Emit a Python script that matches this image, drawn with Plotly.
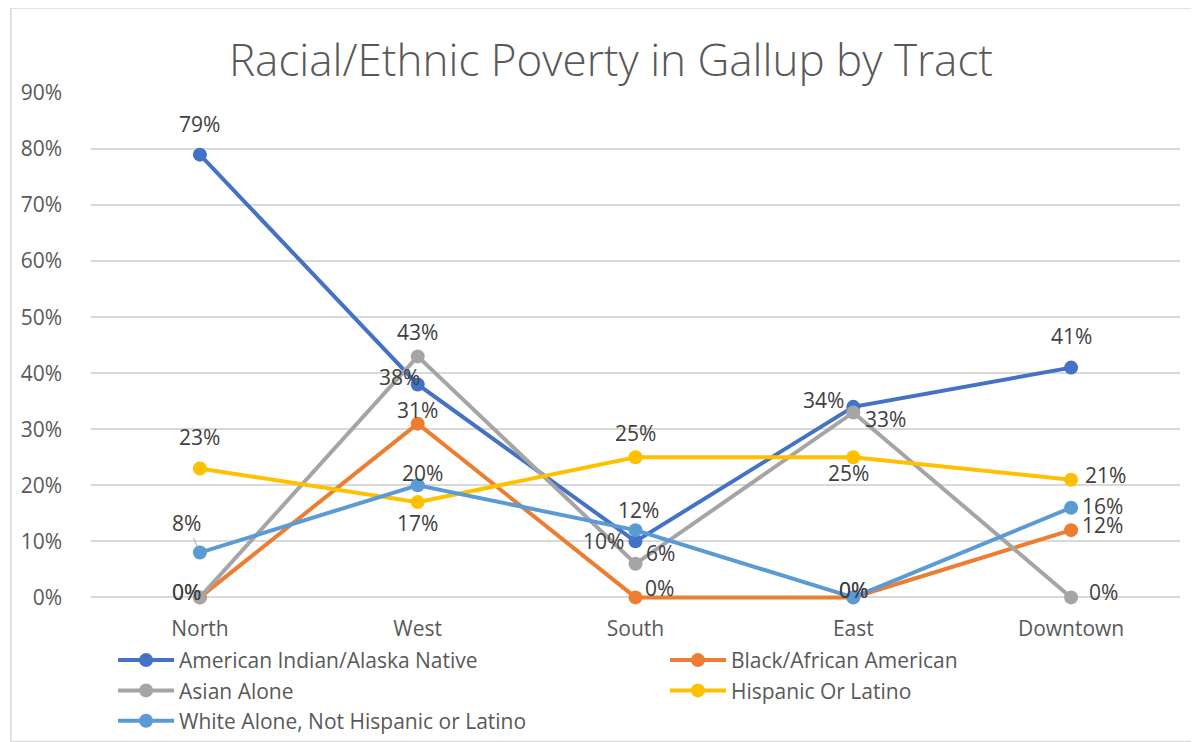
import plotly.graph_objects as go

# datos
tracts = ['North', 'West', 'South', 'East', 'Downtown']
american_indian = [79, 38, 10, 34, 41]
black = [0, 31, 0, 0, 12]
asian = [0, 43, 6, 33, 0]
hispanic = [23, 17, 25, 25, 21]
white = [8, 20, 12, 0, 16]

series = [
    ('American Indian/Alaska Native', american_indian, '#4472C4', 'legend'),
    ('Black/African American', black, '#ED7D31', 'legend2'),
    ('Asian Alone', asian, '#A5A5A5', 'legend'),
    ('Hispanic Or Latino', hispanic, '#FFC000', 'legend2'),
    ('White Alone, Not Hispanic or Latino', white, '#5B9BD5', 'legend'),
]

# desplazamiento de etiquetas (dx, dy en px, dy hacia abajo)
label_offsets = {
    'American Indian/Alaska Native': [(0, -31), (-18, -7), (-32, 0), (-30, -7), (0, -32)],
    'Black/African American': [(-13, -5), (0, -14), (24, -9), (0, -7), (31, -5)],
    'Asian Alone': [(-13, -5), (0, -24), (25, -11), (32, 7), (32, -5)],
    'Hispanic Or Latino': [(0, -31), (0, 21), (0, -24), (-5, 16), (34, -5)],
    'White Alone, Not Hispanic or Latino': [(-13, -30), (5, -12), (3, -20), (0, -7), (31, -2)],
}

FS = 21

fig = go.Figure()

for name, values, color, leg in series:
    fig.add_trace(go.Scatter(
        x=tracts,
        y=values,
        mode='lines+markers',
        name=name,
        legend=leg,
        line=dict(color=color, width=4),
        marker=dict(size=14, color=color),
        cliponaxis=False,
    ))

# etiquetas de datos
for name, values, color, leg in series:
    for i, (cat, v) in enumerate(zip(tracts, values)):
        dx, dy = label_offsets[name][i]
        if name.startswith('White') and cat == 'North':
            # etiqueta con linea guia
            fig.add_annotation(
                x=cat, y=v, text=f'{v}%', showarrow=True,
                ax=dx, ay=dy, arrowhead=0, arrowwidth=1,
                arrowcolor='#A6A6A6', standoff=6,
                font=dict(size=FS, color='#404040'),
            )
        else:
            fig.add_annotation(
                x=cat, y=v, text=f'{v}%', showarrow=False,
                xshift=dx, yshift=-dy,
                font=dict(size=FS, color='#404040'),
            )

# borde del grafico
fig.add_shape(
    type='rect', xref='paper', yref='paper',
    x0=-0.0735, x1=1.1, y0=-0.2716, y1=1.1668,
    line=dict(color='#D9D9D9', width=1.5), fillcolor='rgba(0,0,0,0)',
    layer='below',
)

# la pagina tiene 8px de margen en el body
fig.update_layout(
    width=1191,
    height=734,
    margin=dict(l=83, r=19, t=85, b=139.4, autoexpand=False),
    paper_bgcolor='white',
    plot_bgcolor='white',
    font=dict(family='Open Sans, sans-serif', size=FS, color='#595959'),
    title=dict(
        text='Racial/Ethnic Poverty in Gallup by Tract',
        x=0.5063, xanchor='center', y=0.929, yanchor='middle',
        font=dict(family='Open Sans, sans-serif', size=44, color='#595959', weight=300),
    ),
    xaxis=dict(
        range=[-0.5, 4.5], showgrid=False, zeroline=False, showline=False,
        ticks='', tickfont=dict(size=FS, color='#595959'), ticklabelstandoff=11,
    ),
    yaxis=dict(
        range=[-1, 90], tick0=0, dtick=10, ticksuffix='%', showgrid=True,
        gridcolor='#D9D9D9', gridwidth=1.5, zeroline=False, showline=False,
        ticks='', tickfont=dict(size=FS, color='#595959'), ticklabelstandoff=28,
    ),
    legend=dict(
        xref='container', yref='container',
        x=0.0882, y=0.139, xanchor='left', yanchor='top', orientation='v',
        font=dict(size=FS, color='#595959'), bgcolor='rgba(0,0,0,0)',
        tracegroupgap=0, itemwidth=56,
    ),
    legend2=dict(
        xref='container', yref='container',
        x=0.5516, y=0.139, xanchor='left', yanchor='top', orientation='v',
        font=dict(size=FS, color='#595959'), bgcolor='rgba(0,0,0,0)',
        tracegroupgap=0, itemwidth=56,
    ),
)

fig.write_html("out.html")
